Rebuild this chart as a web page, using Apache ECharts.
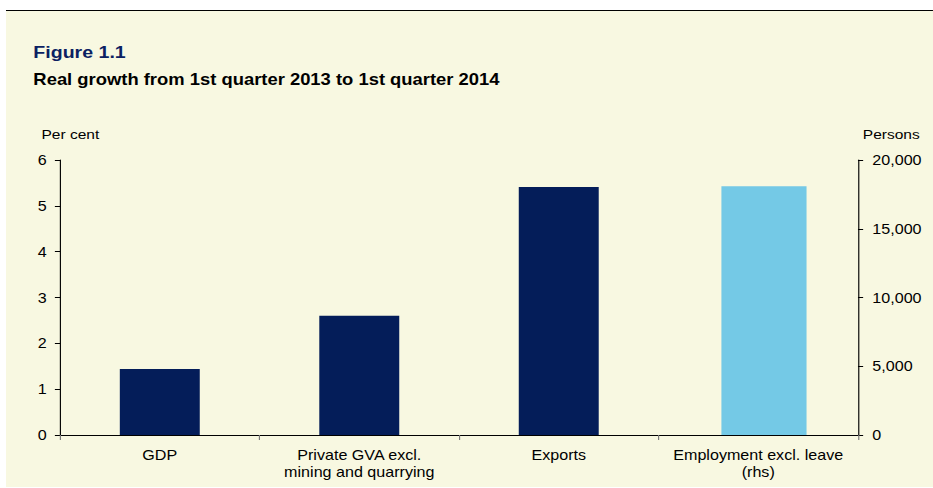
<!DOCTYPE html>
<html><head><meta charset="utf-8">
<script src="https://cdn.jsdelivr.net/npm/echarts@6/dist/echarts.min.js"></script>
<style>
html,body{margin:0;padding:0;background:#fff;overflow:hidden;width:933px;height:488px}
#c{width:811px;height:488px;transform:scaleX(1.1504);transform-origin:0 0}
</style>
</head><body><div id="c"></div>
<script>
const categories = ['GDP', 'Private GVA excl.\nmining and quarrying', 'Exports', 'Employment excl. leave\n(rhs)'];
const percentValues = [1.44, 2.6, 5.41, '-'];
const personsValues = ['-', '-', '-', 18100];
const leftTicks = [0, 1, 2, 3, 4, 5, 6];
const rightTicks = [0, 5000, 10000, 15000, 20000];
const emptyValues = ['-', '-', '-', '-'];

const chart = echarts.init(document.getElementById('c'), null, {renderer: 'svg'});
const font = 'Liberation Sans, Arial, sans-serif';
chart.setOption({
  animation: false,
  backgroundColor: '#ffffff',
  graphic: [
    {type: 'rect', shape: {x: 5.2, y: 10, width: 806, height: 477}, style: {fill: '#F8F8E1'}, z: -10},
    {type: 'line', shape: {x1: 5.2, y1: 10.5, x2: 811, y2: 10.5}, style: {stroke: '#000', lineWidth: 1}},
    {type: 'text', left: 29, top: 43, style: {text: 'Figure 1.1', font: 'bold 17px ' + font, fill: '#0B2162'}},
    {type: 'text', left: 29, top: 71, style: {text: 'Real growth from 1st quarter 2013 to 1st quarter 2014', font: 'bold 16px ' + font, fill: '#000'}},
    {type: 'text', left: 36, top: 127, style: {text: 'Per cent', font: '13.5px ' + font, fill: '#000'}},
    {type: 'text', left: 750, top: 127, style: {text: 'Persons', font: '13.5px ' + font, fill: '#000'}}
  ],
  grid: {left: 52.2, right: 65.2, top: 160, bottom: 53},
  xAxis: [
    {type: 'category', data: categories,
     axisLine: {lineStyle: {color: '#000', width: 1}},
     axisTick: {show: true, interval: 0, length: 5, lineStyle: {color: '#777'}},
     axisLabel: {interval: 0, hideOverlap: false, color: '#000', fontFamily: font, fontSize: 14, lineHeight: 17, margin: 11}},
    {type: 'category', data: categories, show: false}
  ],
  yAxis: [
    {type: 'value', min: 0, max: 6, interval: 1, position: 'left',
     axisLine: {show: true, lineStyle: {color: '#000'}},
     axisTick: {show: true, length: 4.5, lineStyle: {color: '#000'}},
     splitLine: {show: false},
     axisLabel: {color: '#000', fontFamily: font, fontSize: 14, margin: 11.5,
       formatter: v => leftTicks.includes(v) ? String(v) : ''}},
    {type: 'value', min: 0, max: 20000, interval: 5000, position: 'right',
     axisLine: {show: true, lineStyle: {color: '#000'}},
     axisTick: {show: true, length: 4.5, lineStyle: {color: '#000'}},
     splitLine: {show: false},
     axisLabel: {color: '#000', fontFamily: font, fontSize: 14, margin: 12.5,
       formatter: v => rightTicks.includes(v) ? v.toLocaleString('en-US') : ''}}
  ],
  series: [
    {type: 'bar', xAxisIndex: 0, yAxisIndex: 0, data: percentValues, barWidth: 69.5,
     itemStyle: {color: '#041D59'}},
    {type: 'bar', xAxisIndex: 1, yAxisIndex: 1, data: emptyValues, barWidth: 10, barGap: '0%',
     itemStyle: {color: 'rgba(0,0,0,0)'}},
    {type: 'bar', xAxisIndex: 1, yAxisIndex: 1, data: personsValues, barWidth: 74, barGap: '0%',
     itemStyle: {color: '#74C9E6'}}
  ]
});
</script></body></html>
